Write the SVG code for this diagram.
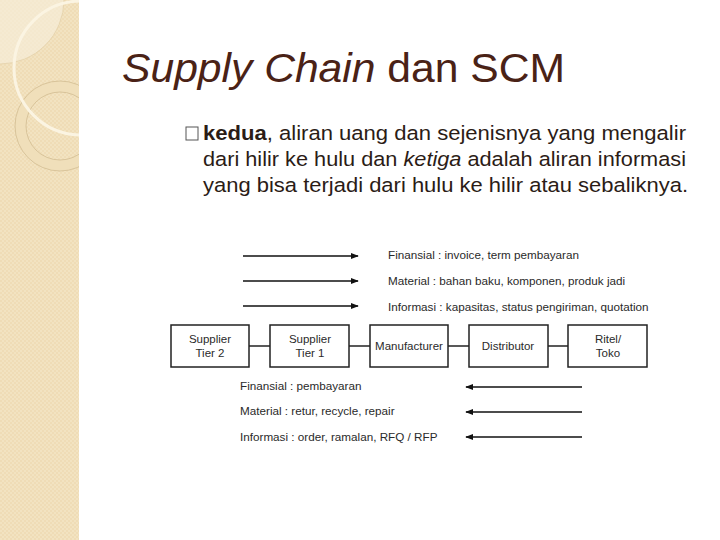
<svg xmlns="http://www.w3.org/2000/svg" width="720" height="540" viewBox="0 0 720 540">
<style>
.title{font-family:"Liberation Sans",Arial,sans-serif;font-size:40px;fill:#4a2216}
.body{font-family:"Liberation Sans",Arial,sans-serif;font-size:20.5px;fill:#2b1c16}
.lbl{font-family:"Liberation Sans",Arial,sans-serif;font-size:11.7px;fill:#2a2a2a}
.box rect{fill:#fff;stroke:#222;stroke-width:1.5}
.box text{font-family:"Liberation Sans",Arial,sans-serif;font-size:11.5px;fill:#2a2a2a;text-anchor:middle}
.arr{stroke:#111;stroke-width:1.3;fill:none}
.link{stroke:#222;stroke-width:1.5}
</style>
<defs>
<marker id="ah" viewBox="0 0 10 10" refX="9" refY="5" markerWidth="8" markerHeight="8" markerUnits="userSpaceOnUse" orient="auto">
<path d="M0,1 L10,5 L0,9 Z" fill="#111"/>
</marker>
<pattern id="chk" width="4" height="4" patternUnits="userSpaceOnUse">
<rect width="4" height="4" fill="#f2e3c1"/>
<rect width="2" height="2" fill="#efdcb6"/>
<rect x="2" y="2" width="2" height="2" fill="#efdcb6"/>
</pattern>
<clipPath id="pc"><rect x="0" y="0" width="79" height="540"/></clipPath>
</defs>
<rect width="720" height="540" fill="#fff"/>
<g id="panel" clip-path="url(#pc)">
<rect x="0" y="0" width="79" height="540" fill="url(#chk)"/>
<circle cx="0" cy="0" r="64" fill="#f6ecd8" fill-opacity="0.7" stroke="#e3d0a8" stroke-width="0.8"/>
<circle cx="60" cy="126" r="45" fill="#f0dfba" stroke="#d2bd92" stroke-width="0.8"/>
<circle cx="60" cy="126" r="34" fill="url(#chk)" stroke="#d2bd92" stroke-width="0.8"/>
<circle cx="81" cy="68" r="67" fill="none" stroke="#fbf4e2" stroke-width="3"/>
</g>
<text class="title" x="122" y="82" textLength="443" lengthAdjust="spacingAndGlyphs"><tspan font-style="italic">Supply Chain</tspan> dan SCM</text>
<g id="bullet">
<rect x="186" y="127" width="12" height="13" fill="none" stroke="#555" stroke-width="1"/>
<text class="body" x="203" y="140" textLength="483" lengthAdjust="spacingAndGlyphs"><tspan font-weight="bold">kedua</tspan>,  aliran uang dan sejenisnya yang mengalir</text>
<text class="body" x="203" y="166" textLength="483" lengthAdjust="spacingAndGlyphs">dari hilir ke hulu dan <tspan font-style="italic">ketiga</tspan> adalah aliran informasi</text>
<text class="body" x="203" y="192" textLength="485" lengthAdjust="spacingAndGlyphs">yang bisa terjadi dari hulu ke hilir atau sebaliknya.</text>
</g>
<g id="connectors">
<line class="arr" x1="243" y1="256" x2="358" y2="256" marker-end="url(#ah)"/>
<line class="arr" x1="243" y1="281" x2="358" y2="281" marker-end="url(#ah)"/>
<line class="arr" x1="243" y1="306" x2="358" y2="306" marker-end="url(#ah)"/>
<line class="arr" x1="582" y1="387" x2="466" y2="387" marker-end="url(#ah)"/>
<line class="arr" x1="582" y1="412" x2="466" y2="412" marker-end="url(#ah)"/>
<line class="arr" x1="582" y1="437" x2="466" y2="437" marker-end="url(#ah)"/>
<line class="link" x1="249" y1="346" x2="270" y2="346"/>
<line class="link" x1="349" y1="346" x2="370" y2="346"/>
<line class="link" x1="448" y1="346" x2="469" y2="346"/>
<line class="link" x1="548" y1="346" x2="568" y2="346"/>
</g>
<g id="labels">
<text class="lbl" x="388" y="259">Finansial : invoice, term pembayaran</text>
<text class="lbl" x="388" y="285">Material : bahan baku, komponen, produk jadi</text>
<text class="lbl" x="388" y="311">Informasi : kapasitas, status pengiriman, quotation</text>
<text class="lbl" x="240" y="390">Finansial : pembayaran</text>
<text class="lbl" x="240" y="415">Material : retur, recycle, repair</text>
<text class="lbl" x="240" y="441">Informasi : order, ramalan, RFQ / RFP</text>
</g>
<g id="supplier-tier-2" class="box">
<rect x="171" y="325" width="78" height="42"/>
<text x="210" y="343">Supplier</text><text x="210" y="357">Tier 2</text>
</g>
<g id="supplier-tier-1" class="box">
<rect x="270" y="325" width="79" height="42"/>
<text x="310" y="343">Supplier</text><text x="310" y="357">Tier 1</text>
</g>
<g id="manufacturer" class="box">
<rect x="370" y="325" width="78" height="42"/>
<text x="409" y="350">Manufacturer</text>
</g>
<g id="distributor" class="box">
<rect x="469" y="325" width="79" height="42"/>
<text x="508" y="350">Distributor</text>
</g>
<g id="ritel-toko" class="box">
<rect x="568" y="325" width="79" height="42"/>
<text x="608" y="343">Ritel/</text><text x="608" y="357">Toko</text>
</g>
</svg>
